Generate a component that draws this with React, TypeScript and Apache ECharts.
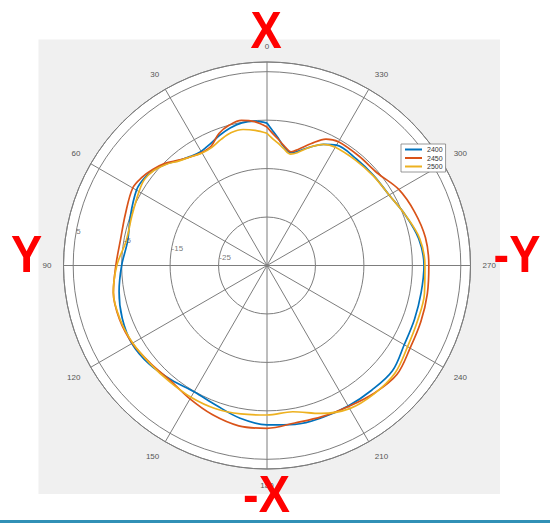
import React, { useEffect, useRef } from 'react';
import * as echarts from 'echarts';

// Angles in degrees (0 at top, counter-clockwise)
const angles = [0, 5, 10, 15, 20, 25, 30, 35, 40, 45, 50, 55, 60, 70, 80, 90, 100, 110, 120, 130, 140, 150, 160, 170, 180, 190, 200, 210, 220, 230, 240, 250, 260, 270, 280, 290, 300, 310, 320, 330, 335, 340, 345, 348, 352, 355, 358, 360];

const gain2400 = [-5.6, -5.1, -5.1, -5.6, -6.4, -7.3, -7.8, -7.5, -6.7, -5.4, -4.4, -3.9, -3.9, -5.0, -5.8, -5.0, -4.0, -3.2, -2.8, -3.3, -4.2, -4.9, -4.3, -3.0, -2.1, -1.7, -1.6, -1.5, -1.4, -1.2, -2.3, -2.6, -2.7, -2.6, -3.2, -4.6, -5.9, -6.2, -6.3, -6.3, -7.4, -9.0, -10.6, -11.2, -10.2, -8.6, -6.9, -5.6];

const gain2450 = [-6.4, -5.2, -4.6, -5.0, -6.0, -7.8, -8.1, -7.6, -6.6, -5.2, -4.2, -3.4, -3.0, -3.9, -4.3, -3.8, -2.8, -2.6, -2.9, -3.6, -4.0, -3.2, -2.2, -1.4, -1.4, -2.0, -1.8, -1.4, -0.6, 0.0, -0.9, -1.2, -1.4, -1.6, -1.8, -2.6, -3.6, -5.3, -5.5, -5.5, -6.2, -8.2, -10.2, -11.0, -10.0, -8.8, -7.5, -6.4];

const gain2500 = [-7.7, -7.0, -6.5, -6.6, -7.3, -8.1, -8.2, -7.6, -6.8, -5.5, -4.5, -4.1, -4.5, -5.3, -5.5, -4.0, -2.8, -2.7, -3.0, -3.5, -3.7, -3.6, -3.6, -3.9, -4.15, -4.35, -2.5, -0.9, -0.5, -0.5, -1.5, -1.9, -2.0, -2.4, -3.0, -4.6, -5.9, -6.3, -6.6, -6.8, -7.4, -9.0, -10.9, -11.5, -10.6, -9.6, -8.6, -7.7];

const seriesNames = ['2400', '2450', '2500'];
const seriesGains = [gain2400, gain2450, gain2500];
const seriesColors = ['#0072BD', '#D95319', '#EDB120'];

const radiusMin = -35;
const radiusMax = 7;
const radiusStep = 10;
const radiusTickLabels = [-25, -15, -5, 5];
const radiusLabelAngle = 80;
const angleStep = 30;

const gridColor = '#7d7d7d';
const redFont = 'bold 52px "Liberation Sans", Arial, sans-serif';

export default function App() {
  const ref = useRef<HTMLDivElement>(null);

  useEffect(() => {
    if (!ref.current) return;
    const chart = echarts.init(ref.current, null, { renderer: 'svg' });

    const lineSeries = seriesNames.map((name, si) => ({
      name,
      type: 'line',
      coordinateSystem: 'polar',
      polarIndex: 0,
      data: angles.map((a, i) => [seriesGains[si][i], a]),
      showSymbol: false,
      symbol: 'none',
      smooth: 0.35,
      lineStyle: { width: 1.7, color: seriesColors[si] },
      itemStyle: { color: seriesColors[si] },
      z: 3,
    }));

    const redText = (text: string, x: number, y: number) => ({
      type: 'text',
      x,
      y,
      scaleX: 0.9,
      z: 50,
      silent: true,
      style: {
        text,
        fill: '#ff0000',
        font: redFont,
        lineHeight: 40,
        align: 'center',
        verticalAlign: 'middle',
      },
    });

    const option: any = {
      animation: false,
      backgroundColor: '#ffffff',
      color: seriesColors,
      polar: {
        center: [267, 265.5],
        radius: 203.5,
      },
      angleAxis: {
        type: 'value',
        min: 0,
        max: 360,
        interval: angleStep,
        startAngle: 90,
        clockwise: false,
        axisLine: { show: true, lineStyle: { color: gridColor, width: 1 } },
        axisTick: { show: false },
        axisLabel: {
          show: true,
          margin: 12,
          fontSize: 8,
          color: '#555555',
          fontFamily: '"Liberation Sans", Arial, sans-serif',
          formatter: (v: number) => (v === 360 ? '' : String(v)),
        },
        splitLine: { show: true, lineStyle: { color: gridColor, width: 1 } },
      },
      radiusAxis: {
        type: 'value',
        min: radiusMin,
        max: radiusMax,
        interval: radiusStep,
        axisLine: { show: false },
        axisTick: { show: false },
        axisLabel: { show: false },
        splitLine: { show: true, lineStyle: { color: gridColor, width: 1 } },
      },
      legend: {
        data: seriesNames,
        orient: 'vertical',
        left: 401,
        top: 144,
        icon: 'rect',
        itemWidth: 17,
        itemHeight: 2,
        itemGap: 1.5,
        padding: [2, 3, 2, 4],
        backgroundColor: '#ffffff',
        borderColor: '#7f7f7f',
        borderWidth: 0.8,
        borderRadius: 0,
        textStyle: {
          fontSize: 7,
          color: '#333333',
          fontFamily: '"Liberation Sans", Arial, sans-serif',
        },
      },
      series: [
        ...lineSeries,
        {
          name: 'rTicks',
          type: 'scatter',
          coordinateSystem: 'polar',
          polarIndex: 0,
          data: radiusTickLabels.map((v) => [v, radiusLabelAngle]),
          symbol: 'circle',
          symbolSize: 0,
          silent: true,
          z: 4,
          label: {
            show: true,
            position: 'right',
            distance: 0,
            fontSize: 8,
            color: '#555555',
            fontFamily: '"Liberation Sans", Arial, sans-serif',
            formatter: (p: any) => String(p.value[0]),
          },
        },
      ],
      graphic: [
        {
          type: 'rect',
          z: -100,
          silent: true,
          shape: { x: 38.5, y: 39.5, width: 461.5, height: 454.5 },
          style: { fill: '#f0f0f0' },
        },
        {
          type: 'circle',
          z: -90,
          silent: true,
          shape: { cx: 267, cy: 265.5, r: 203.5 },
          style: { fill: '#ffffff' },
        },
        {
          type: 'rect',
          z: 100,
          silent: true,
          shape: { x: 0, y: 520, width: 550, height: 3 },
          style: { fill: '#3190b6' },
        },
        redText('X', 266, 29.5),
        redText('-X', 266.5, 494),
        redText('Y', 26.5, 253.5),
        redText('-Y', 517, 253.5),
      ],
    };

    chart.setOption(option);
    return () => {
      chart.dispose();
    };
  }, []);

  return (
    <div
      ref={ref}
      style={{ position: 'fixed', left: 0, top: 0, width: 550, height: 523 }}
    />
  );
}
